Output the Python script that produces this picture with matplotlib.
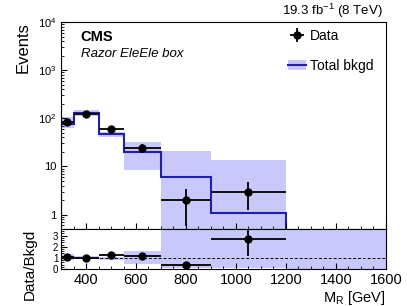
import numpy as np
import matplotlib
matplotlib.use("Agg")
import matplotlib.pyplot as plt
from matplotlib.ticker import MultipleLocator, FixedLocator, LogLocator, NullFormatter
from matplotlib.patches import Patch
from matplotlib.lines import Line2D

plt.rcParams['font.family'] = ['Liberation Sans', 'DejaVu Sans']
plt.rcParams['mathtext.fontset'] = 'custom'
plt.rcParams['mathtext.rm'] = 'Liberation Sans'
plt.rcParams['mathtext.it'] = 'Liberation Sans:italic'
plt.rcParams['mathtext.default'] = 'regular'

# M_R bin edges (GeV)
edges = [300, 350, 450, 550, 700, 900, 1200, 1600]
# observed events (first 6 bins)
data = [84, 125, 59, 24, 2, 3]
# total background prediction and its uncertainty band
bkg = [78, 128, 48, 20, 6.0, 1.1, 0.02]
bkg_lo = [64, 114, 40, 8.4, 0.3, 0.1, 0.0]
bkg_hi = [106, 152, 52, 33, 21, 13.5, 0.3]

band_color = '#c8c8fa'
line_color = '#2020a8'

edges_a = np.array(edges, dtype=float)
centers = 0.5 * (edges_a[1:] + edges_a[:-1])
halfw = 0.5 * (edges_a[1:] - edges_a[:-1])
n = len(data)
data_a = np.array(data, dtype=float)
bkg_a = np.array(bkg)
data_err = np.sqrt(data_a)

fig = plt.figure(figsize=(4.07, 3.06), dpi=100)
ax = fig.add_axes([0.150, 0.2516, 0.798, 0.676])
rax = fig.add_axes([0.150, 0.121, 0.798, 0.1305], sharex=ax)

# main panel
ax.stairs(bkg_hi, edges, baseline=bkg_lo, fill=True, color=band_color, lw=0)
ax.stairs(bkg, edges, color=line_color, lw=1.5)
h_data = ax.errorbar(centers[:n], data_a, xerr=halfw[:n], yerr=data_err, fmt='o',
                     color='black', ms=5, lw=1.3, capsize=0)
ax.set_yscale('log')
ax.set_xlim(300, 1600)
ax.set_ylim(0.5, 1e4)
ax.set_yticks([1, 10, 100, 1000, 10000])
ax.set_yticklabels(['1', '10', '$10^{2}$', '$10^{3}$', '$10^{4}$'])
ax.yaxis.set_minor_locator(LogLocator(base=10, subs=np.arange(2, 10), numticks=20))
ax.yaxis.set_minor_formatter(NullFormatter())
ax.xaxis.set_major_locator(MultipleLocator(200))
ax.xaxis.set_minor_locator(MultipleLocator(50))
ax.tick_params(axis='both', which='both', direction='in', top=False, right=False)
ax.tick_params(axis='both', which='major', length=4.5, labelsize=8)
ax.tick_params(axis='both', which='minor', length=2.2)
ax.tick_params(axis='x', labelbottom=False)
ax.set_ylabel('Events', fontsize=12, loc='top')

ax.text(0.06, 0.93, 'CMS', transform=ax.transAxes, fontsize=10.5,
        fontweight='bold', va='center')
ax.text(0.06, 0.845, 'Razor EleEle box', transform=ax.transAxes, fontsize=9.5,
        style='italic', va='center')
fig.text(0.940, 0.963, '19.3 fb$^{-1}$ (8 TeV)', fontsize=9.5, ha='right', va='center')

h_bkg = (Patch(facecolor=band_color, edgecolor='none'), Line2D([], [], color=line_color, lw=1.5))
ax.legend([h_data, h_bkg], ['Data', 'Total bkgd'], loc='upper left',
          bbox_to_anchor=(0.70, 0.966), frameon=False, fontsize=10,
          borderpad=0, borderaxespad=0, handlelength=1.25, handletextpad=0.3,
          labelspacing=1.15)

# ratio panel
r_lo = np.array(bkg_lo) / bkg_a
r_hi = np.array(bkg_hi) / bkg_a
rax.stairs(r_hi, edges, baseline=r_lo, fill=True, color=band_color, lw=0)
rax.axhline(1.0, color='black', ls=(0, (3, 2)), lw=0.7)
ratio = data_a / bkg_a[:n]
ratio_err = data_err / bkg_a[:n]
rax.errorbar(centers[:n], ratio, xerr=halfw[:n], yerr=ratio_err, fmt='o',
             color='black', ms=5, lw=1.3, capsize=0)
rax.set_ylim(0, 3.6)
rax.yaxis.set_major_locator(FixedLocator([0, 1, 2, 3]))
rax.yaxis.set_minor_locator(MultipleLocator(0.2))
rax.tick_params(axis='both', which='both', direction='in', top=False, right=False)
rax.tick_params(axis='x', which='major', length=4.5, labelsize=10.5, pad=3)
rax.tick_params(axis='y', which='major', length=4.5, labelsize=7, pad=2)
rax.tick_params(axis='both', which='minor', length=2.2)
rax.set_ylabel('Data/Bkgd', fontsize=11, loc='top')
rax.set_xlabel('M$_R$ [GeV]', fontsize=10.5, loc='right', labelpad=1)
rax.yaxis.set_label_coords(-0.075, 1.0)
ax.yaxis.set_label_coords(-0.095, 1.0)

fig.savefig('out.png', dpi=100)
